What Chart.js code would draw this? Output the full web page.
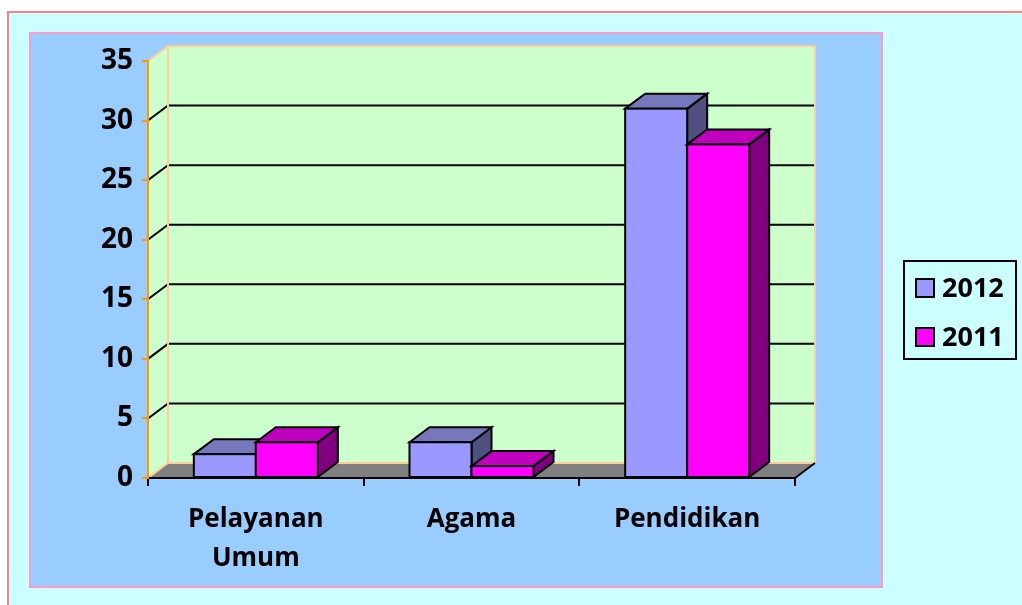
<!DOCTYPE html>
<html>
<head>
<meta charset="utf-8">
<script src="https://cdn.jsdelivr.net/npm/chart.js@4/dist/chart.umd.min.js"></script>
<style>
  html, body { margin: 0; padding: 0; background: #ffffff; }
  #wrap { width: 1022px; height: 605px; }
</style>
</head>
<body>
<div id="wrap"><canvas id="myChart" width="1022" height="605"></canvas></div>
<script>
// chart data
var categories = [['Pelayanan', 'Umum'], 'Agama', 'Pendidikan'];
var seriesNames = ['2012', '2011'];
var values2012 = [2, 3, 31];
var values2011 = [3, 1, 28];
var yTicks = [0, 5, 10, 15, 20, 25, 30, 35];

// look
var FONT = "'Open Sans', 'DejaVu Sans', sans-serif";
var DX = 20, DY = -15;   // depth of the 3d effect
var faces = [
  { front: '#9999FF', top: '#7777BB', side: '#505080' },
  { front: '#FF00FF', top: '#BF00BF', side: '#800080' }
];

var ctx = document.getElementById('myChart');

// background, walls, floor and back gridlines
var backdrop = {
  id: 'backdrop',
  beforeDraw: function(chart) {
    var c = chart.ctx, a = chart.chartArea, y = chart.scales.y;
    c.save();
    c.fillStyle = '#ffffff';
    c.fillRect(0, 0, chart.width, chart.height);
    c.fillStyle = '#CCFFFF';
    c.fillRect(8, 12, 1030, 610);
    c.strokeStyle = '#FF8080';
    c.lineWidth = 2;
    c.strokeRect(8, 12, 1030, 610);
    c.fillStyle = '#99CCFF';
    c.fillRect(30, 33, 852, 554);
    c.strokeStyle = '#FF99CC';
    c.strokeRect(30, 33, 852, 554);

    // back wall
    c.fillStyle = '#CCFFCC';
    c.fillRect(a.left + DX, a.top + DY, a.right - a.left, a.bottom - a.top);
    // left wall
    c.beginPath();
    c.moveTo(a.left, a.top);
    c.lineTo(a.left + DX, a.top + DY);
    c.lineTo(a.left + DX, a.bottom + DY);
    c.lineTo(a.left, a.bottom);
    c.closePath();
    c.fill();
    // floor
    c.fillStyle = '#808080';
    c.beginPath();
    c.moveTo(a.left, a.bottom);
    c.lineTo(a.left + DX, a.bottom + DY);
    c.lineTo(a.right + DX, a.bottom + DY);
    c.lineTo(a.right, a.bottom);
    c.closePath();
    c.fill();

    // gridlines
    c.strokeStyle = '#000000';
    c.lineWidth = 2;
    yTicks.forEach(function(v) {
      if (v === 0 || v === 35) return;
      var py = y.getPixelForValue(v);
      c.beginPath();
      c.moveTo(a.left, py);
      c.lineTo(a.left + DX, py + DY);
      c.lineTo(a.right + DX, py + DY);
      c.stroke();
    });

    // wall edges
    c.strokeStyle = '#FFCC99';
    c.lineWidth = 2;
    c.beginPath();
    c.moveTo(a.left, a.top);
    c.lineTo(a.left + DX, a.top + DY);
    c.lineTo(a.right + DX, a.top + DY);
    c.lineTo(a.right + DX, a.bottom + DY);
    c.lineTo(a.left + DX, a.bottom + DY);
    c.lineTo(a.left, a.bottom);
    c.moveTo(a.left + DX, a.top + DY);
    c.lineTo(a.left + DX, a.bottom + DY);
    c.stroke();
    c.strokeStyle = '#000000';
    c.beginPath();
    c.moveTo(a.right, a.bottom);
    c.lineTo(a.right + DX, a.bottom + DY);
    c.stroke();
    c.restore();
  }
};

// 3d bars
var bars3d = {
  id: 'bars3d',
  beforeDatasetsDraw: function(chart) {
    var c = chart.ctx;
    c.save();
    c.lineWidth = 2;
    c.strokeStyle = '#000000';
    c.lineJoin = 'miter';
    for (var i = 0; i < categories.length; i++) {
      chart.data.datasets.forEach(function(ds, d) {
        var bar = chart.getDatasetMeta(d).data[i];
        var p = bar.getProps(['x', 'y', 'base', 'width'], true);
        var l = p.x - p.width / 2, r = p.x + p.width / 2, t = p.y, b = p.base;
        var f = faces[d];
        // side
        c.fillStyle = f.side;
        c.beginPath();
        c.moveTo(r, t); c.lineTo(r + DX, t + DY); c.lineTo(r + DX, b + DY); c.lineTo(r, b);
        c.closePath(); c.fill(); c.stroke();
        // top
        c.fillStyle = f.top;
        c.beginPath();
        c.moveTo(l, t); c.lineTo(l + DX, t + DY); c.lineTo(r + DX, t + DY); c.lineTo(r, t);
        c.closePath(); c.fill(); c.stroke();
        // front
        c.fillStyle = f.front;
        c.fillRect(l, t, r - l, b - t);
        c.strokeRect(l, t, r - l, b - t);
      });
    }
    c.restore();
    return false;
  }
};

// legend box on the right
var sideLegend = {
  id: 'sideLegend',
  afterDraw: function(chart) {
    var c = chart.ctx;
    c.save();
    c.fillStyle = '#CCFFFF';
    c.fillRect(904, 261, 112, 98);
    c.strokeStyle = '#000000';
    c.lineWidth = 2;
    c.strokeRect(904, 261, 112, 98);
    c.font = 'bold 27px ' + FONT;
    c.textBaseline = 'middle';
    chart.data.datasets.forEach(function(ds, d) {
      var cy = 288 + d * 49;
      c.fillStyle = ds.backgroundColor;
      c.fillRect(916, cy - 9, 18, 18);
      c.strokeRect(916, cy - 9, 18, 18);
      c.fillStyle = '#000000';
      c.fillText(ds.label, 942, cy + 1);
    });
    c.restore();
  }
};

var myChart = new Chart(ctx, {
  type: 'bar',
  data: {
    labels: categories,
    datasets: [
      { label: seriesNames[0], data: values2012, backgroundColor: faces[0].front },
      { label: seriesNames[1], data: values2011, backgroundColor: faces[1].front }
    ]
  },
  options: {
    responsive: false,
    animation: false,
    events: [],
    layout: { padding: { left: 0, top: 61, right: 227, bottom: 0 } },
    datasets: { bar: { barPercentage: 1, categoryPercentage: 0.575 } },
    plugins: { legend: { display: false }, tooltip: { enabled: false } },
    scales: {
      x: {
        afterFit: function(s) { s.height = 127; },
        grid: { offset: true, drawOnChartArea: false, tickLength: 8, color: '#000000', lineWidth: 2 },
        border: { color: '#000000', width: 2 },
        ticks: { color: '#000000', padding: 14, maxRotation: 0, font: { family: FONT, size: 26, weight: 'bold', lineHeight: 1.5 } }
      },
      y: {
        min: 0,
        max: 35,
        afterFit: function(s) { s.width = 148; },
        afterBuildTicks: function(s) { s.ticks = yTicks.map(function(v) { return { value: v }; }); },
        grid: { drawOnChartArea: false, tickLength: 6, color: '#FF9900', lineWidth: 2 },
        border: { color: '#FF9900', width: 2 },
        ticks: { color: '#000000', padding: 9, font: { family: FONT, size: 28, weight: 'bold' } }
      }
    }
  },
  plugins: [backdrop, bars3d, sideLegend]
});
</script>
</body>
</html>
